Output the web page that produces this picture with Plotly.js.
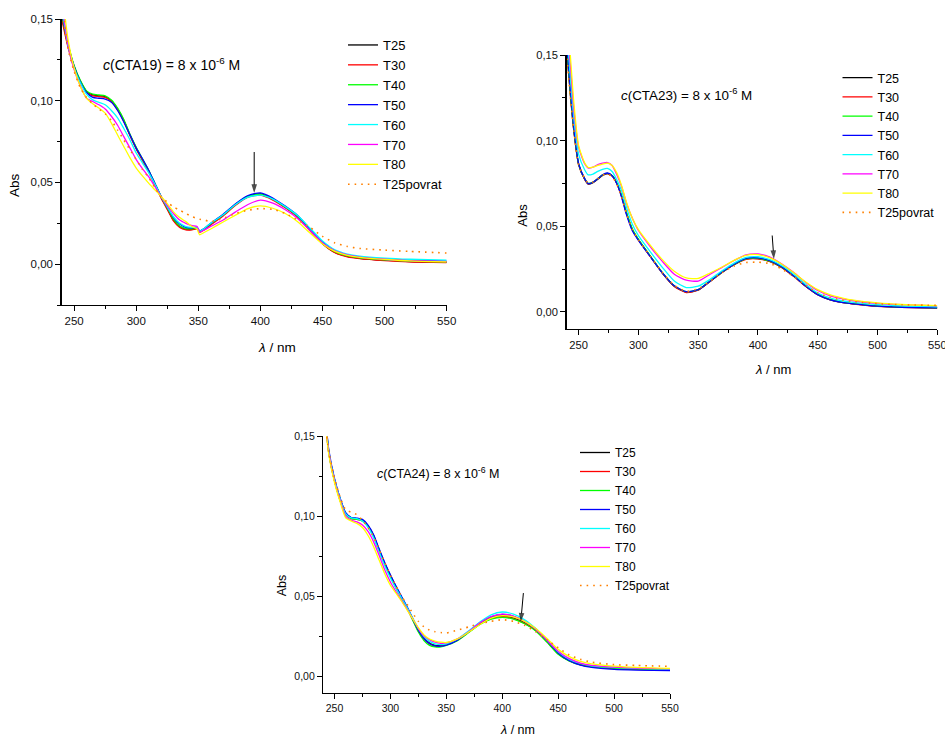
<!DOCTYPE html>
<html>
<head>
<meta charset="utf-8">
<script src="https://cdn.plot.ly/plotly-3.0.1.min.js"></script>
<style>html,body{margin:0;padding:0;background:#fff;}#chart{width:945px;height:736px;}</style>
</head>
<body>
<div id="chart"></div>
<script>
// ---------- DATA ----------
const seriesNames = ['T25','T30','T40','T50','T60','T70','T80','T25povrat'];
const seriesColors = ['#000000','#ff0000','#00ff00','#0000ff','#00ffff','#ff00ff','#ffff00','#ff8000'];
const xTitle = '<i>λ</i> / nm';
const yTitle = 'Abs';

// Panel 1: CTA19
const wl1 = [240,245,250,255,260,265,270,275,280,285,290,295,300,305,310,315,320,325,330,335,340,345,349,351,355,360,370,380,390,400,410,420,430,440,450,460,470,480,500,520,550];
const cta19_T25 = [0.152,0.134,0.121,0.112,0.1057,0.1035,0.103,0.1025,0.100,0.095,0.088,0.079,0.071,0.064,0.057,0.049,0.041,0.034,0.027,0.023,0.0214,0.0213,0.022,0.0200,0.0215,0.0245,0.030,0.0365,0.0415,0.0430,0.0398,0.0348,0.0290,0.0205,0.0125,0.0072,0.0047,0.0036,0.0024,0.0016,0.0011];
const cta19_T30 = [0.150,0.133,0.120,0.1115,0.1052,0.103,0.1025,0.102,0.0995,0.0945,0.0875,0.0785,0.0705,0.0635,0.0565,0.0485,0.0405,0.0335,0.0265,0.0225,0.021,0.021,0.0215,0.0195,0.021,0.024,0.0295,0.036,0.041,0.0422,0.0392,0.0345,0.0288,0.0205,0.0125,0.007,0.0045,0.0034,0.0022,0.0014,0.001];
const cta19_T40 = [0.153,0.135,0.1215,0.1125,0.106,0.104,0.1035,0.103,0.1005,0.0955,0.0885,0.0795,0.0715,0.0645,0.0575,0.0495,0.0415,0.0345,0.0275,0.0233,0.0217,0.0216,0.0222,0.0202,0.0218,0.0248,0.0302,0.0367,0.0415,0.0428,0.0398,0.0350,0.0293,0.021,0.013,0.0076,0.005,0.0039,0.0026,0.0018,0.0014];
const cta19_T50 = [0.155,0.135,0.121,0.1115,0.105,0.102,0.1015,0.101,0.099,0.094,0.087,0.079,0.071,0.0645,0.0575,0.0495,0.0415,0.035,0.0285,0.0245,0.0225,0.0222,0.0225,0.0203,0.022,0.025,0.0305,0.037,0.042,0.0436,0.0405,0.0355,0.0298,0.0215,0.0135,0.0082,0.0056,0.0043,0.003,0.0023,0.0018];
const cta19_T60 = [0.158,0.134,0.120,0.111,0.104,0.1005,0.099,0.0975,0.094,0.0895,0.083,0.076,0.068,0.062,0.056,0.049,0.0415,0.035,0.029,0.025,0.023,0.0225,0.0225,0.0202,0.022,0.025,0.0302,0.0365,0.041,0.0422,0.0398,0.0352,0.0298,0.022,0.0142,0.0088,0.0062,0.0049,0.0037,0.003,0.0025];
const cta19_T70 = [0.160,0.135,0.119,0.109,0.1015,0.0995,0.0975,0.095,0.0905,0.085,0.078,0.071,0.064,0.0585,0.0535,0.0475,0.0414,0.036,0.031,0.027,0.025,0.0235,0.023,0.0195,0.021,0.023,0.027,0.032,0.0365,0.0392,0.0373,0.0333,0.028,0.0205,0.013,0.0082,0.0056,0.0043,0.003,0.0021,0.0016];
const cta19_T80 = [0.170,0.138,0.120,0.1087,0.1016,0.0981,0.0955,0.0924,0.0863,0.079,0.072,0.065,0.0588,0.054,0.0496,0.0455,0.0414,0.037,0.032,0.0285,0.026,0.023,0.0215,0.018,0.0195,0.0215,0.0258,0.030,0.034,0.0357,0.0342,0.031,0.026,0.019,0.0123,0.0078,0.0054,0.0042,0.0029,0.002,0.0014];
const cta19_T25povrat = [0.165,0.132,0.118,0.108,0.102,0.098,0.095,0.092,0.088,0.082,0.076,0.070,0.064,0.058,0.053,0.047,0.041,0.038,0.035,0.033,0.031,0.029,0.028,0.0275,0.027,0.026,0.028,0.031,0.033,0.034,0.0335,0.031,0.027,0.0225,0.017,0.013,0.0108,0.0096,0.0086,0.0078,0.0068];

// Panel 2: CTA23
const wl2 = [240,243,246,250,255,258,262,266,270,274,278,282,286,290,295,300,310,320,330,340,350,360,370,380,390,400,410,420,430,440,450,460,470,480,500,520,550];
const cta23_T25 = [0.155,0.128,0.106,0.086,0.0775,0.0746,0.0755,0.0775,0.0797,0.0808,0.0795,0.075,0.0675,0.0577,0.048,0.0422,0.0324,0.0227,0.015,0.0115,0.0128,0.0179,0.0231,0.0276,0.0309,0.0311,0.0295,0.026,0.0208,0.015,0.0101,0.0072,0.0056,0.0047,0.0033,0.0027,0.0023];
const cta23_T30 = [0.153,0.127,0.1055,0.0858,0.0775,0.0748,0.0757,0.0777,0.0798,0.0807,0.0793,0.0748,0.0672,0.0575,0.0478,0.042,0.0322,0.0226,0.0148,0.0113,0.0127,0.0178,0.023,0.0275,0.0307,0.031,0.0293,0.0258,0.0206,0.0148,0.01,0.0071,0.0055,0.0046,0.0032,0.0026,0.0022];
const cta23_T40 = [0.154,0.128,0.1062,0.0862,0.0778,0.075,0.0758,0.0778,0.08,0.0809,0.0796,0.0752,0.0678,0.058,0.0482,0.0424,0.0326,0.0229,0.0152,0.0118,0.013,0.018,0.0232,0.0277,0.031,0.0312,0.0296,0.0261,0.021,0.0151,0.0102,0.0073,0.0057,0.0048,0.0034,0.0028,0.0024];
const cta23_T50 = [0.157,0.13,0.107,0.0865,0.0778,0.0749,0.0757,0.0778,0.0801,0.0811,0.0795,0.0748,0.0668,0.0568,0.0472,0.0418,0.0322,0.0228,0.0152,0.0118,0.013,0.018,0.0233,0.0279,0.0313,0.0316,0.0299,0.0262,0.0209,0.015,0.0101,0.0072,0.0056,0.0047,0.0033,0.0027,0.0023];
const cta23_T60 = [0.165,0.138,0.113,0.092,0.083,0.080,0.0805,0.082,0.0832,0.0838,0.082,0.077,0.0705,0.061,0.051,0.0445,0.035,0.026,0.018,0.0142,0.015,0.019,0.024,0.0285,0.0318,0.0322,0.0305,0.027,0.022,0.016,0.011,0.0082,0.0065,0.0055,0.0042,0.0035,0.003];
const cta23_T70 = [0.17,0.145,0.118,0.096,0.0865,0.084,0.0845,0.086,0.0868,0.0872,0.0855,0.080,0.073,0.0635,0.0545,0.0475,0.038,0.0295,0.022,0.0185,0.018,0.022,0.026,0.030,0.0333,0.0338,0.032,0.028,0.023,0.0172,0.0125,0.0095,0.0077,0.0065,0.005,0.0042,0.0035];
const cta23_T80 = [0.175,0.15,0.122,0.097,0.087,0.0843,0.0845,0.0855,0.0863,0.0869,0.0855,0.081,0.0735,0.064,0.0545,0.048,0.0388,0.0305,0.0237,0.0198,0.0195,0.0227,0.0262,0.0301,0.033,0.0334,0.0315,0.0278,0.0228,0.0175,0.013,0.0101,0.0082,0.0068,0.0052,0.0043,0.0037];
const cta23_T25povrat = [0.152,0.126,0.106,0.086,0.078,0.0752,0.0758,0.0778,0.0798,0.0805,0.079,0.0745,0.067,0.0575,0.048,0.042,0.0325,0.023,0.0155,0.012,0.0135,0.018,0.023,0.0268,0.0288,0.029,0.0282,0.025,0.0205,0.0155,0.0112,0.0085,0.007,0.006,0.0048,0.0042,0.0038];

// Panel 3: CTA24
const wl3 = [240,245,250,255,260,265,270,275,280,285,290,295,300,305,310,315,320,325,330,335,340,345,350,360,370,380,390,400,410,420,430,440,450,460,470,480,500,520,550];
const cta24_T25 = [0.175,0.140,0.123,0.111,0.102,0.099,0.0985,0.0975,0.094,0.088,0.079,0.0705,0.063,0.056,0.0495,0.043,0.036,0.029,0.024,0.021,0.0195,0.0193,0.020,0.023,0.028,0.033,0.0365,0.0378,0.0365,0.0335,0.029,0.022,0.0145,0.0100,0.0075,0.0063,0.0052,0.0046,0.0040];
const cta24_T30 = [0.173,0.139,0.122,0.110,0.1015,0.0985,0.098,0.097,0.0935,0.0875,0.0785,0.070,0.0625,0.0555,0.049,0.0425,0.0355,0.0285,0.0235,0.0205,0.019,0.019,0.0198,0.0228,0.0278,0.0328,0.0362,0.0375,0.0362,0.0332,0.0288,0.0218,0.0143,0.0099,0.0074,0.0062,0.0051,0.0046,0.0042];
const cta24_T40 = [0.174,0.139,0.122,0.110,0.1015,0.0985,0.098,0.097,0.0935,0.0875,0.0785,0.070,0.0625,0.0555,0.049,0.0425,0.0352,0.0278,0.0225,0.0195,0.0185,0.0185,0.0195,0.0225,0.0275,0.0325,0.0358,0.037,0.0358,0.033,0.0285,0.0215,0.014,0.0097,0.0073,0.0062,0.0052,0.0047,0.0044];
const cta24_T50 = [0.176,0.141,0.1235,0.1112,0.1022,0.0992,0.0988,0.098,0.0945,0.0885,0.0795,0.071,0.0635,0.0565,0.05,0.0435,0.0362,0.029,0.0238,0.0205,0.0192,0.019,0.0197,0.0228,0.0282,0.0335,0.0372,0.0388,0.0376,0.0345,0.0298,0.0225,0.0148,0.0100,0.0072,0.0058,0.0046,0.0041,0.0037];
const cta24_T60 = [0.176,0.140,0.123,0.111,0.1015,0.099,0.0985,0.097,0.093,0.0865,0.0775,0.069,0.0615,0.055,0.049,0.043,0.0365,0.030,0.025,0.022,0.0205,0.020,0.0205,0.0235,0.0285,0.034,0.0385,0.0403,0.039,0.0355,0.030,0.023,0.0155,0.0108,0.0082,0.0068,0.0058,0.0052,0.0047];
const cta24_T70 = [0.172,0.139,0.122,0.110,0.100,0.0975,0.0965,0.0945,0.0905,0.084,0.0755,0.0665,0.059,0.053,0.0475,0.042,0.036,0.030,0.0255,0.023,0.0215,0.0208,0.021,0.0235,0.028,0.0335,0.0375,0.039,0.0378,0.0345,0.0295,0.0228,0.0158,0.0112,0.0085,0.0071,0.006,0.0053,0.0048];
const cta24_T80 = [0.17,0.138,0.121,0.109,0.099,0.097,0.0955,0.093,0.088,0.081,0.0725,0.064,0.057,0.052,0.047,0.0415,0.036,0.0305,0.026,0.0235,0.0222,0.0215,0.0213,0.0235,0.0278,0.0325,0.0365,0.038,0.0372,0.0345,0.030,0.0238,0.017,0.0125,0.0095,0.008,0.0066,0.0058,0.0052];
const cta24_T25povrat = [0.17,0.14,0.124,0.112,0.104,0.1025,0.101,0.0975,0.093,0.087,0.079,0.071,0.063,0.0565,0.050,0.045,0.0395,0.0345,0.031,0.029,0.028,0.0275,0.0272,0.029,0.031,0.033,0.0345,0.0355,0.0345,0.032,0.028,0.023,0.018,0.0135,0.0108,0.009,0.0075,0.007,0.0064];

// Arrow markers: [tail, tip] in data coordinates
const arrow1_x = [395, 395],     arrow1_y = [0.0686, 0.0436];
const arrow2_x = [411.9, 413.3], arrow2_y = [0.0446, 0.0309];
const arrow3_x = [418.9, 416.6], arrow3_y = [0.0521, 0.0344];

const xTickLabels = [250,300,350,400,450,500,550];

// ---------- BUILD ----------
const FONT = 'Liberation Sans, Arial, sans-serif';
const W = 945, H = 736;

const panels = [
  {wl: wl1, ys: [cta19_T25,cta19_T30,cta19_T40,cta19_T50,cta19_T60,cta19_T70,cta19_T80,cta19_T25povrat], xa:'x', ya:'y', leg:'legend', ax: arrow1_x, ay: arrow1_y},
  {wl: wl2, ys: [cta23_T25,cta23_T30,cta23_T40,cta23_T50,cta23_T60,cta23_T70,cta23_T80,cta23_T25povrat], xa:'x2', ya:'y2', leg:'legend2', ax: arrow2_x, ay: arrow2_y},
  {wl: wl3, ys: [cta24_T25,cta24_T30,cta24_T40,cta24_T50,cta24_T60,cta24_T70,cta24_T80,cta24_T25povrat], xa:'x3', ya:'y3', leg:'legend3', ax: arrow3_x, ay: arrow3_y}
];

const traces = [];
panels.forEach(p => {
  p.ys.forEach((y, i) => {
    const dotted = seriesNames[i] === 'T25povrat';
    traces.push({
      type: 'scatter', mode: 'lines',
      x: p.wl, y: y, name: seriesNames[i],
      xaxis: p.xa, yaxis: p.ya, legend: p.leg,
      line: {color: seriesColors[i], width: dotted ? 1.6 : 1.3, dash: dotted ? '1.6px,5px' : 'solid', shape: 'spline', smoothing: 0.6},
      hoverinfo: 'skip'
    });
  });
  // indicator arrow (tail -> tip), arrowhead marker at the tip
  traces.push({
    type: 'scatter', mode: 'lines+markers',
    x: p.ax, y: p.ay, xaxis: p.xa, yaxis: p.ya,
    showlegend: false, hoverinfo: 'skip', cliponaxis: false,
    line: {color: '#000', width: 1},
    marker: {symbol: 'arrow', angleref: 'previous', size: [0, 9], color: '#000', line: {width: 0}}
  });
});

function px(x){ return x / W; }
function py(y){ return 1 - y / H; }

function xAxis(l, r, anchor, fs){
  return {
    domain: [px(l), px(r)], anchor: anchor, range: [240, 550],
    tickmode: 'array', tickvals: xTickLabels, ticktext: xTickLabels.map(String),
    ticklabeloverflow: 'allow',
    ticks: 'outside', ticklen: 5, tickwidth: 1, tickcolor: '#000',
    minor: {ticks: 'outside', ticklen: 3, tickwidth: 1, tickcolor: '#000', tick0: 250, dtick: 25, showgrid: false},
    showline: true, linecolor: '#000', linewidth: 1.4, mirror: false,
    showgrid: false, zeroline: false, fixedrange: true,
    tickfont: {family: FONT, size: fs, color: '#111'}
  };
}
function yAxis(b, t, lo, anchor, fs){
  return {
    domain: [py(b), py(t)], anchor: anchor, range: [lo, 0.15],
    tick0: 0, dtick: 0.05, tickformat: '.2f',
    ticks: 'outside', ticklen: 5, tickwidth: 1, tickcolor: '#000',
    minor: {ticks: 'outside', ticklen: 3, tickwidth: 1, tickcolor: '#000', tick0: 0, dtick: 0.025, showgrid: false},
    showline: true, linecolor: '#000', linewidth: 1.4, mirror: false,
    showgrid: false, zeroline: false, fixedrange: true,
    tickfont: {family: FONT, size: fs, color: '#111'}
  };
}
function legendAt(left, top, fs){
  return {x: px(left), y: py(top), xanchor: 'left', yanchor: 'top',
    bgcolor: 'rgba(0,0,0,0)', borderwidth: 0,
    font: {family: FONT, size: fs, color: '#000'}};
}
function label(x, y, text, fs, angle){
  return {xref: 'paper', yref: 'paper', x: px(x), y: py(y), text: text,
    showarrow: false, xanchor: 'center', yanchor: 'middle', textangle: angle || 0,
    font: {family: FONT, size: fs, color: '#000'}};
}
function note(x, y, text, fs){
  return {xref: 'paper', yref: 'paper', x: px(x), y: py(y), text: text,
    showarrow: false, xanchor: 'left', yanchor: 'middle',
    font: {family: FONT, size: fs, color: '#000'}};
}

const layout = {
  width: W, height: H,
  margin: {l: 0, r: 0, t: 0, b: 0},
  paper_bgcolor: '#fff', plot_bgcolor: 'rgba(0,0,0,0)',
  separators: ',.',
  showlegend: true,
  font: {family: FONT, color: '#000'},
  xaxis: xAxis(61.7, 446.7, 'y', 11.5),
  yaxis: yAxis(305, 19, -0.025, 'x', 11.5),
  xaxis2: xAxis(566.7, 937.3, 'y2', 11.2),
  yaxis2: yAxis(329, 55, -0.01, 'x2', 11.2),
  xaxis3: xAxis(323.3, 670, 'y3', 10.5),
  yaxis3: yAxis(692.7, 436, -0.01, 'x3', 10.5),
  legend: legendAt(343, 30, 13),
  legend2: legendAt(837.5, 63, 12.5),
  legend3: legendAt(575, 438, 12),
  annotations: [
    note(101, 64, '<i>c</i>(CTA19) = 8 x 10<sup>-6</sup> M', 14),
    note(619, 94.5, '<i>c</i>(CTA23) = 8 x 10<sup>-6</sup> M', 13.4),
    note(375, 473.5, '<i>c</i>(CTA24) = 8 x 10<sup>-6</sup> M', 12.5),
    label(15, 185, yTitle, 13.5, -90),
    label(276.7, 347, xTitle, 13.5),
    label(521.7, 215, yTitle, 13, -90),
    label(773, 369, xTitle, 13),
    label(282.3, 585, yTitle, 12.5, -90),
    label(517, 730, xTitle, 12.5)
  ]
};

Plotly.newPlot('chart', traces, layout, {staticPlot: true, displayModeBar: false});
</script>
</body>
</html>
